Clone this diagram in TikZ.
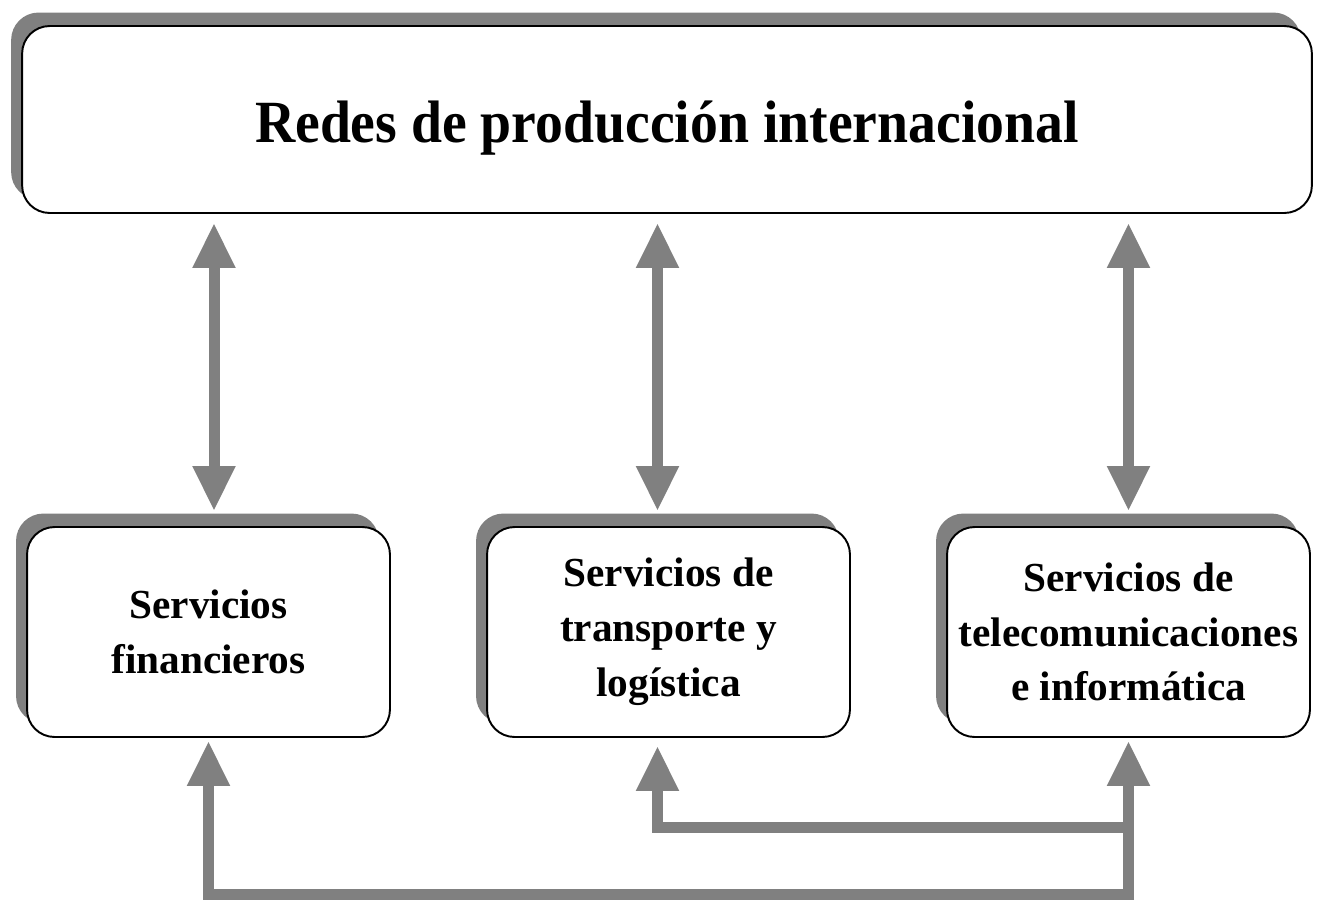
\documentclass[tikz,border=0pt]{standalone}
\usepackage{fontspec}
\setmainfont{Liberation Serif}
\newfontfamily\titlefont[FakeStretch=0.93]{Liberation Serif}
\usetikzlibrary{arrows.meta,shadows,calc}
\definecolor{arrowgray}{HTML}{808080}

\begin{document}
\begin{tikzpicture}[x=0.02cm,y=-0.02cm,
  box/.style={draw=black,line width=1.1pt,fill=white,rounded corners=0.55cm,inner sep=2pt,
    drop shadow={shadow xshift=-0.22cm,shadow yshift=0.27cm,fill=arrowgray,opacity=1}},
  bigbox/.style={box,minimum width=25.8cm,minimum height=3.74cm,text height=1.2cm,text depth=0.27cm,
    font=\titlefont\bfseries\fontsize{34.1}{40}\selectfont},
  smallbox/.style={box,minimum width=7.26cm,minimum height=4.2cm,align=center,
    font=\bfseries\fontsize{23.5}{31.2}\selectfont},
  link/.style={draw=arrowgray,line width=0.22cm,-{Triangle[width=0.8cm,length=0.9cm]}},
  twoway/.style={link,{Triangle[width=0.8cm,length=0.9cm]}-{Triangle[width=0.8cm,length=0.9cm]}}]

\useasboundingbox (0,0) rectangle (1321,899);

% boxes
\node[bigbox] (redes) at (667,119.5) {Redes de producción internacional};
\node[smallbox] (fin) at (208.5,632) {Servicios\\financieros};
\node[smallbox] (trans) at (668.5,632) {Servicios de\\transporte y\\logística};
\node[smallbox] (tele) at (1128.5,632) {Servicios de\\telecomunicaciones\\e informática};

\coordinate (fintop) at ([xshift=0.11cm]fin.north);
\coordinate (tin) at ([xshift=-0.22cm]trans.north);
\coordinate (tout) at ([xshift=-0.22cm]trans.south);
\coordinate (hub) at (tele.south |- 0,894);
\coordinate (knee) at (tele.south |- 0,827);

% links to the top box
\draw[twoway,shorten <=0.18cm,shorten >=0.3cm] (redes.south -| fintop) -- (fintop);
\draw[twoway,shorten <=0.18cm,shorten >=0.3cm] (redes.south -| tin) -- (tin);
\draw[twoway,shorten <=0.18cm,shorten >=0.3cm] (redes.south -| tele.north) -- (tele.north);

% links along the bottom
\draw[link,shorten >=0.06cm] ([xshift=0.11cm]hub) -| (fin.south);
\draw[link,shorten >=0.06cm] ([yshift=-0.11cm]hub) -- (tele.south);
\draw[link,shorten >=0.16cm] (knee) -| (tout);

\end{tikzpicture}
\end{document}
